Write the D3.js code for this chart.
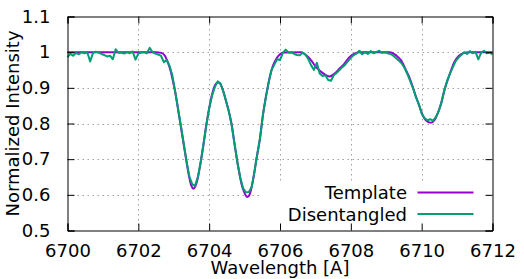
<!DOCTYPE html>
<html>
<head>
<meta charset="utf-8">
<script src="https://cdn.jsdelivr.net/npm/d3@7"></script>
<style>
	body { margin: 0; background: #fff; }
	svg { display: block; font-family: 'DejaVu Sans', sans-serif; }
</style>
</head>
<body>
<div class="line-chart"></div>
<script>
// tick values
const xTicks = [6700, 6702, 6704, 6706, 6708, 6710, 6712];
const yTicks = [0.5, 0.6, 0.7, 0.8, 0.9, 1.0, 1.1];
const yTickLabels = ['0.5', '0.6', '0.7', '0.8', '0.9', '1', '1.1'];

const seriesNames = ['Template', 'Disentangled'];

// template profile
const templateWave = [
	6700.00, 6702.50, 6702.65, 6702.75, 6702.82, 6702.90, 6702.97, 6703.03, 6703.09, 6703.15,
	6703.22, 6703.30, 6703.37, 6703.44, 6703.50, 6703.55, 6703.61, 6703.67, 6703.75, 6703.83,
	6703.92, 6704.02, 6704.11, 6704.18, 6704.25, 6704.32, 6704.39, 6704.47, 6704.54, 6704.63,
	6704.72, 6704.82, 6704.91, 6705.00, 6705.08, 6705.15, 6705.24, 6705.33, 6705.43, 6705.52,
	6705.62, 6705.71, 6705.80, 6705.90, 6706.00, 6706.10, 6706.60, 6706.74, 6706.88, 6707.02,
	6707.17, 6707.31, 6707.40, 6707.54, 6707.68, 6707.82, 6707.96, 6708.10, 6708.25, 6709.10,
	6709.28, 6709.42, 6709.56, 6709.65, 6709.75, 6709.84, 6709.94, 6710.03, 6710.12, 6710.26,
	6710.36, 6710.45, 6710.55, 6710.64, 6710.73, 6710.83, 6710.92, 6711.06, 6711.20, 6711.35,
	6712.00
];
const templateFlux = [
	1.000, 1.000, 0.998, 0.990, 0.975, 0.952, 0.922, 0.894, 0.860, 0.822,
	0.779, 0.730, 0.687, 0.648, 0.625, 0.617, 0.624, 0.643, 0.686, 0.735,
	0.797, 0.853, 0.892, 0.910, 0.915, 0.910, 0.893, 0.865, 0.840, 0.800,
	0.740, 0.678, 0.632, 0.605, 0.594, 0.603, 0.642, 0.698, 0.755, 0.825,
	0.884, 0.930, 0.962, 0.982, 0.994, 0.999, 1.000, 0.991, 0.977, 0.958,
	0.944, 0.935, 0.932, 0.940, 0.954, 0.968, 0.986, 0.996, 1.000, 1.000,
	0.991, 0.977, 0.949, 0.930, 0.902, 0.875, 0.847, 0.823, 0.809, 0.802,
	0.809, 0.828, 0.856, 0.893, 0.921, 0.949, 0.972, 0.991, 0.998, 1.000,
	1.000
];

// disentangled spectrum, sampled every 0.08 A from 6700
const disStart = 6700;
const disStep = 0.08;
const disFlux = [
	0.986, 0.995, 0.990, 0.998, 0.994, 1.000, 0.997, 0.999, 0.974, 0.998,
	1.001, 0.999, 0.995, 0.992, 0.988, 0.990, 0.980, 1.008, 0.998, 0.999,
	0.996, 1.000, 0.997, 1.002, 0.979, 0.996, 0.999, 1.000, 0.997, 1.012,
	1.000, 0.996, 0.993, 0.990, 0.972, 0.978, 0.962, 0.935, 0.890, 0.842,
	0.795, 0.745, 0.695, 0.652, 0.630, 0.625, 0.650, 0.690, 0.742, 0.795,
	0.842, 0.878, 0.902, 0.918, 0.912, 0.890, 0.862, 0.832, 0.793, 0.740,
	0.690, 0.648, 0.618, 0.607, 0.608, 0.622, 0.665, 0.715, 0.762, 0.825,
	0.874, 0.915, 0.950, 0.965, 0.980, 0.978, 0.998, 1.007, 0.999, 1.000,
	0.995, 0.992, 0.991, 0.999, 0.993, 0.980, 0.963, 0.950, 0.970, 0.940,
	0.933, 0.935, 0.922, 0.920, 0.936, 0.942, 0.950, 0.958, 0.965, 0.975,
	0.984, 0.992, 0.996, 1.004, 0.994, 1.000, 0.995, 1.003, 0.997, 1.000,
	1.004, 0.998, 1.000, 0.997, 0.995, 0.990, 0.983, 0.976, 0.968, 0.955,
	0.938, 0.918, 0.898, 0.873, 0.855, 0.828, 0.815, 0.809, 0.812, 0.808,
	0.818, 0.834, 0.860, 0.892, 0.920, 0.940, 0.958, 0.975, 0.985, 0.992,
	1.000, 0.995, 1.003, 0.997, 1.001, 0.980, 0.999, 1.004, 0.997, 0.999,
	0.994
];

const width = 524;
const height = 279;
const margin = { top: 16.5, right: 31.5, bottom: 48.5, left: 67.5 };
const colors = ['#9400d3', '#009e73'];

const svg = d3
	.select('.line-chart')
	.append('svg')
	.attr('width', width)
	.attr('height', height);

const innerWidth = width - margin.left - margin.right;
const innerHeight = height - margin.top - margin.bottom;

const x = d3.scaleLinear().domain([6700, 6712]).range([margin.left, margin.left + innerWidth]);
const y = d3.scaleLinear().domain([0.5, 1.1]).range([margin.top + innerHeight, margin.top]);

// grid
const grid = svg.append('g')
	.attr('stroke', '#a0a0a0')
	.attr('stroke-width', 1)
	.attr('stroke-dasharray', '1.5,3.5');
grid.selectAll('.gx')
	.data(xTicks.slice(1, -1))
	.enter()
	.append('line')
	.attr('x1', d => Math.round(x(d)) + 0.5)
	.attr('x2', d => Math.round(x(d)) + 0.5)
	.attr('y1', y(0.5))
	.attr('y2', y(1.1));
grid.selectAll('.gy')
	.data(yTicks.slice(1, -1))
	.enter()
	.append('line')
	.attr('y1', d => Math.round(y(d)) + 0.5)
	.attr('y2', d => Math.round(y(d)) + 0.5)
	.attr('x1', x(6700))
	.attr('x2', x(6712));

// series
const templateData = templateWave.map((w, i) => ({ w: w, f: templateFlux[i] }));
const disData = disFlux.map((f, i) => ({ w: disStart + i * disStep, f: f }));

svg.append('path')
	.datum(templateData)
	.attr('fill', 'none')
	.attr('stroke', colors[0])
	.attr('stroke-width', 2)
	.attr('d', d3.line().x(d => x(d.w)).y(d => y(d.f)).curve(d3.curveMonotoneX));

svg.append('path')
	.datum(disData)
	.attr('fill', 'none')
	.attr('stroke', colors[1])
	.attr('stroke-width', 2)
	.attr('stroke-linejoin', 'round')
	.attr('d', d3.line().x(d => x(d.w)).y(d => y(d.f)));

// legend box hides grid
svg.append('rect')
	.attr('x', 262)
	.attr('y', 181)
	.attr('width', 222)
	.attr('height', y(0.5) - 181)
	.attr('fill', '#fff');

const legend = svg.append('g');
seriesNames.forEach((name, i) => {
	const ly = 192.5 + i * 21.5;
	legend.append('text')
		.attr('x', 407)
		.attr('y', ly + 6.5)
		.attr('text-anchor', 'end')
		.attr('font-size', 18)
		.text(name);
	legend.append('line')
		.attr('x1', 417.5)
		.attr('x2', 473.5)
		.attr('y1', ly)
		.attr('y2', ly)
		.attr('stroke', colors[i])
		.attr('stroke-width', 2);
});

// axes, ticks inward on all sides
const tickLen = 7;
svg.append('g')
	.attr('transform', 'translate(0,' + y(0.5) + ')')
	.call(d3.axisBottom(x).tickValues(xTicks).tickSize(-tickLen).tickPadding(tickLen + 7).tickFormat(d3.format('d')));
svg.append('g')
	.attr('transform', 'translate(0,' + y(1.1) + ')')
	.call(d3.axisTop(x).tickValues(xTicks).tickSize(-tickLen).tickFormat(''));
svg.append('g')
	.attr('transform', 'translate(' + x(6700) + ',0)')
	.call(d3.axisLeft(y).tickValues(yTicks).tickSize(-tickLen).tickPadding(tickLen + 10)
		.tickFormat((d, i) => yTickLabels[i]));
svg.append('g')
	.attr('transform', 'translate(' + x(6712) + ',0)')
	.call(d3.axisRight(y).tickValues(yTicks).tickSize(-tickLen).tickFormat(''));

svg.selectAll('.domain').attr('stroke', '#000').attr('stroke-width', 1);
svg.selectAll('.tick line').attr('stroke', '#000').attr('stroke-width', 1);
svg.selectAll('.tick text')
	.attr('fill', '#000')
	.attr('font-size', 18)
	.attr('font-family', 'DejaVu Sans, sans-serif');

// axis titles
svg.append('text')
	.attr('x', x(6706))
	.attr('y', 273.5)
	.attr('text-anchor', 'middle')
	.attr('font-size', 18)
	.text('Wavelength [A]');

svg.append('text')
	.attr('transform', 'translate(18.5,' + (margin.top + innerHeight / 2) + ') rotate(-90)')
	.attr('text-anchor', 'middle')
	.attr('font-size', 18)
	.text('Normalized Intensity');
</script>
</body>
</html>
